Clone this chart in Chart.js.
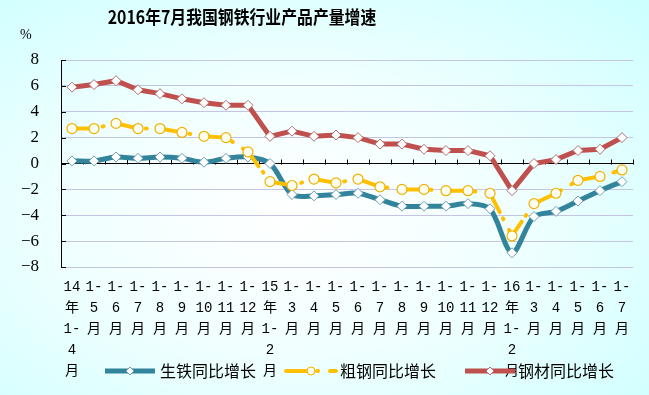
<!DOCTYPE html>
<html>
<head>
<meta charset="utf-8">
<script src="https://cdn.jsdelivr.net/npm/chart.js@4"></script>
<style>
  body { margin: 0; }
  #wrap {
    width: 649px; height: 395px;
    background: radial-gradient(ellipse at 45% 55%, #ffffff 0%, #f0ffff 45%, #ccffff 100%);
  }
</style>
</head>
<body>
<div id="wrap"><canvas id="grafico" width="649" height="395"></canvas></div>
<script>
// categorias (rótulos do eixo x, quebrados em linhas)
const categorias = [
  ['14', '年', '1-', '4', '月'], ['1-', '5', '月'], ['1-', '6', '月'], ['1-', '7', '月'],
  ['1-', '8', '月'], ['1-', '9', '月'], ['1-', '10', '月'], ['1-', '11', '月'], ['1-', '12', '月'],
  ['15', '年', '1-', '2', '月'], ['1-', '3', '月'], ['1-', '4', '月'], ['1-', '5', '月'],
  ['1-', '6', '月'], ['1-', '7', '月'], ['1-', '8', '月'], ['1-', '9', '月'], ['1-', '10', '月'],
  ['1-', '11', '月'], ['1-', '12', '月'],
  ['16', '年', '1-', '2', '月'], ['1-', '3', '月'], ['1-', '4', '月'], ['1-', '5', '月'],
  ['1-', '6', '月'], ['1-', '7', '月']
];

const nomesSeries = ['生铁同比增长', '粗钢同比增长', '钢材同比增长'];

// valores (%)
const shengtie = [0.2, 0.2, 0.5, 0.4, 0.5, 0.4, 0.1, 0.4, 0.5,
  0.0, -2.4, -2.5, -2.4, -2.3, -2.8, -3.3, -3.3, -3.3, -3.1, -3.5,
  -6.9, -4.1, -3.7, -2.9, -2.1, -1.4];
const cugang = [2.7, 2.7, 3.1, 2.7, 2.7, 2.4, 2.1, 2.0, 0.9,
  -1.4, -1.7, -1.2, -1.5, -1.2, -1.8, -2.0, -2.0, -2.1, -2.1, -2.3,
  -5.6, -3.1, -2.3, -1.3, -1.0, -0.5];
const gangcai = [5.9, 6.1, 6.4, 5.7, 5.4, 5.0, 4.7, 4.5, 4.5,
  2.1, 2.5, 2.1, 2.2, 2.0, 1.5, 1.5, 1.1, 1.0, 1.0, 0.6,
  -2.1, 0.0, 0.3, 1.0, 1.1, 2.0];

const yTicks = [-8, -6, -4, -2, 0, 2, 4, 6, 8];

const titulo = '2016年7月我国钢铁行业产品产量增速';

// plugin: título, %, marcas dos eixos e legenda desenhada à mão
const extras = {
  id: 'extras',
  beforeDatasetsDraw(chart) {
    const ctx = chart.ctx;
    const xs = chart.scales.x, ys = chart.scales.y;
    const area = chart.chartArea;
    ctx.save();
    ctx.strokeStyle = '#000';
    ctx.lineWidth = 1;
    // marcas para cima na linha do zero
    const y0 = Math.round(ys.getPixelForValue(0)) + 0.5;
    ctx.beginPath();
    for (let i = 0; i <= categorias.length; i++) {
      const x = Math.round(xs.getPixelForValue(i - 0.5)) + 0.5;
      ctx.moveTo(x, y0);
      ctx.lineTo(x, y0 - 5);
    }
    ctx.stroke();
    // marcas para dentro no eixo y
    ctx.beginPath();
    yTicks.forEach(v => {
      const y = Math.round(ys.getPixelForValue(v)) + 0.5;
      ctx.moveTo(area.left, y);
      ctx.lineTo(area.left + 5, y);
    });
    ctx.stroke();
    ctx.restore();
  },
  afterDraw(chart) {
    const ctx = chart.ctx;
    ctx.save();
    ctx.fillStyle = '#000';
    ctx.textBaseline = 'middle';
    ctx.textAlign = 'center';
    // título um pouco condensado, como no original
    ctx.save();
    ctx.translate(242, 17);
    ctx.scale(0.88, 1);
    ctx.font = 'bold 18px "Noto Sans CJK SC", sans-serif';
    ctx.fillText(titulo, 0, 0);
    ctx.restore();
    ctx.font = '14px "Liberation Serif", serif';
    ctx.textAlign = 'left';
    ctx.fillText('%', 20, 35);

    // legenda
    const posLeg = [105, 286, 465];
    const posTxt = [160, 340, 518];
    const yLeg = 371;
    chart.data.datasets.forEach((ds, i) => {
      const x0 = posLeg[i];
      ctx.save();
      ctx.strokeStyle = ds.borderColor;
      ctx.lineWidth = ds.borderWidth;
      ctx.lineCap = ds.borderCapStyle || 'butt';
      ctx.setLineDash(ds.borderDash || []);
      ctx.beginPath();
      ctx.moveTo(x0, yLeg);
      ctx.lineTo(x0 + 50, yLeg);
      ctx.stroke();
      ctx.restore();
      ctx.fillStyle = ds.pointBackgroundColor;
      ctx.strokeStyle = ds.pointBorderColor;
      ctx.lineWidth = 1;
      ctx.beginPath();
      if (ds.pointStyle == 'circle') {
        ctx.arc(x0 + 25, yLeg, 4, 0, Math.PI * 2);
      } else {
        ctx.moveTo(x0 + 25, yLeg - 4);
        ctx.lineTo(x0 + 29, yLeg);
        ctx.lineTo(x0 + 25, yLeg + 4);
        ctx.lineTo(x0 + 21, yLeg);
        ctx.closePath();
      }
      ctx.fill();
      ctx.stroke();
      ctx.fillStyle = '#000';
      ctx.font = '16px "Noto Sans CJK SC", sans-serif';
      ctx.textAlign = 'left';
      ctx.fillText(ds.label, posTxt[i], yLeg);
    });
    ctx.restore();
  }
};

new Chart(document.getElementById('grafico'), {
  type: 'line',
  data: {
    labels: categorias,
    datasets: [{
      label: nomesSeries[0],
      data: shengtie,
      borderColor: '#31849b',
      borderWidth: 5,
      tension: 0.3,
      pointStyle: 'rectRot',
      pointRadius: 5,
      pointBackgroundColor: '#ffffff',
      pointBorderColor: '#6f9fb0',
      pointBorderWidth: 1,
      order: 3
    }, {
      label: nomesSeries[1],
      data: cugang,
      borderColor: '#ffc000',
      borderWidth: 4,
      borderDash: [24, 7, 1, 12],
      borderCapStyle: 'round',
      tension: 0,
      pointStyle: 'circle',
      pointRadius: 5,
      pointBackgroundColor: '#fffff0',
      pointBorderColor: '#f0b000',
      pointBorderWidth: 1.2,
      order: 2
    }, {
      label: nomesSeries[2],
      data: gangcai,
      borderColor: '#c0504d',
      borderWidth: 5,
      tension: 0,
      pointStyle: 'rectRot',
      pointRadius: 5,
      pointBackgroundColor: '#ffffff',
      pointBorderColor: '#b07070',
      pointBorderWidth: 1,
      order: 1
    }]
  },
  options: {
    responsive: false,
    animation: false,
    layout: { padding: { top: 60, right: 16, left: 0, bottom: 0 } },
    plugins: {
      legend: { display: false },
      title: { display: false },
      tooltip: { enabled: false }
    },
    scales: {
      x: {
        offset: true,
        grid: { display: false, drawTicks: false, offset: true },
        border: { display: false },
        ticks: {
          autoSkip: false,
          maxRotation: 0,
          minRotation: 0,
          padding: 10,
          color: '#000',
          font: { family: '"Liberation Mono", "Noto Sans CJK SC", monospace', size: 14, lineHeight: 1.5 }
        },
        afterFit(scale) { scale.height = 128; }
      },
      y: {
        min: -8,
        max: 8,
        afterBuildTicks(scale) { scale.ticks = yTicks.map(v => ({ value: v })); },
        grid: {
          drawTicks: false,
          color: c => (c.tick && c.tick.value === 0 ? '#000000' : '#c4c4e4'),
          lineWidth: 1
        },
        border: { display: true, color: '#000', width: 1 },
        ticks: {
          padding: 22,
          color: '#000',
          font: { family: '"Liberation Serif", "Times New Roman", serif', size: 17 },
          callback: v => String(v).replace('-', '\u2212')
        },
        afterFit(scale) { scale.width = 61; }
      }
    }
  },
  plugins: [extras]
});
</script>
</body>
</html>
